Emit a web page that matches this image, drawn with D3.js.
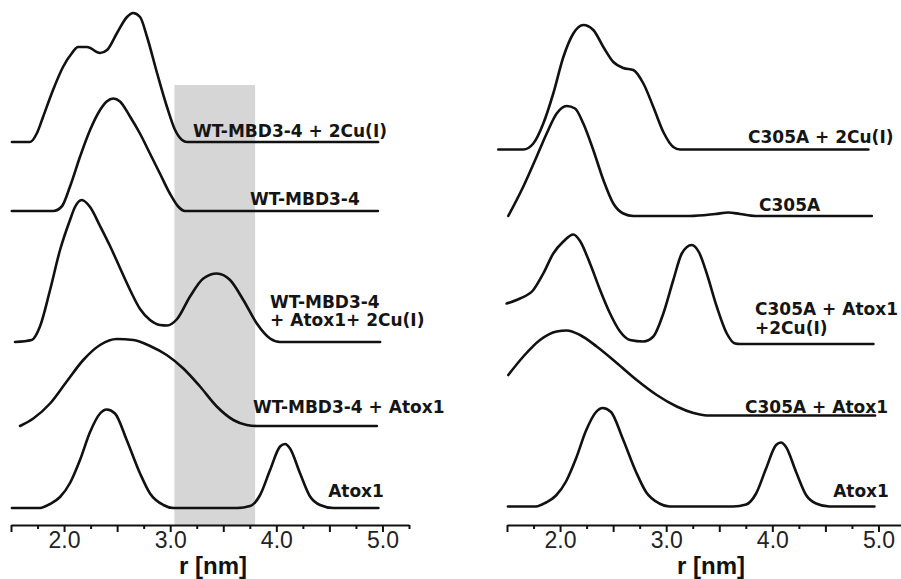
<!DOCTYPE html>
<html><head><meta charset="utf-8">
<script src="https://cdn.jsdelivr.net/npm/d3@7/dist/d3.min.js"></script>
<style>body{margin:0;background:#fff}svg{display:block}</style>
</head><body><svg id="c" width="901" height="579"></svg>
<script>
// ---------- data ----------
const rDomain = [1.5, 5.25];
const labelTicks = [2.0, 3.0, 4.0, 5.0];
const axisTitle = "r [nm]";
const bandRange = [3.04, 3.8];
const bandHeight = 88;

// Left panel (WT-MBD3-4), [r, intensity above baseline]
const wtCu = [[1.509,0],[1.679,0],[1.745,1.8],[1.802,5],[1.896,10.4],[1.990,15],[2.075,17.8],[2.131,19],[2.216,19],[2.339,17.8],[2.405,18.4],[2.499,21.8],[2.593,25],[2.650,25.8],[2.716,25],[2.782,21],[2.876,13.8],[2.970,7],[3.046,2.4],[3.112,0.4],[3.159,0],[4.959,0]];
const wt = [[1.508,0],[1.899,0],[1.978,0.9],[2.056,4.9],[2.151,10.9],[2.245,16.2],[2.339,20.2],[2.402,21.9],[2.464,22.5],[2.527,21.9],[2.621,18.9],[2.715,15.5],[2.809,11.5],[2.903,7.5],[2.997,3.5],[3.075,0.9],[3.138,0],[4.957,0]];
const wtAtoxCu = [[1.538,0],[1.695,0.4],[1.773,3.1],[1.868,10.4],[1.962,18.4],[2.056,24.4],[2.103,27],[2.166,28.4],[2.245,27],[2.339,23.2],[2.433,19.2],[2.527,14.8],[2.622,10.4],[2.716,6.6],[2.810,4.4],[2.904,3.4],[2.970,3.3],[3.065,4.6],[3.187,9.1],[3.312,12.7],[3.439,13.7],[3.564,12.4],[3.689,8.4],[3.816,3.7],[3.941,0.7],[4.035,0],[4.978,0]];
const wtAtox = [[1.585,0],[1.710,1.5],[1.868,4.5],[2.025,8.9],[2.181,13.2],[2.339,16.2],[2.496,17.4],[2.653,17.2],[2.810,16],[2.967,14.2],[3.124,11.5],[3.281,7.9],[3.439,3.9],[3.595,1.2],[3.721,0.2],[3.816,0],[4.947,0]];
const atox1 = [[1.509,0],[1.773,0],[1.868,0.8],[1.962,2.2],[2.056,5.0],[2.150,9.6],[2.245,15.2],[2.339,18.9],[2.402,19.7],[2.480,18.9],[2.590,13.6],[2.716,6.9],[2.810,2.9],[2.935,0.6],[3.030,0],[3.630,0],[3.753,0.4],[3.847,2.6],[3.941,7.6],[4.035,12.3],[4.082,12.8],[4.129,11.9],[4.224,6.9],[4.318,2.3],[4.412,0.6],[4.538,0],[4.962,0]];

// Right panel (C305A)
const cCu = [[1.418,0],[1.654,0],[1.748,1.2],[1.842,5.2],[1.936,11.2],[2.031,18.5],[2.125,23.2],[2.219,24.9],[2.313,23.9],[2.408,20.5],[2.502,17.5],[2.596,16.3],[2.690,15.9],[2.785,13.2],[2.879,8.5],[2.973,3.5],[3.067,0.5],[3.131,0],[4.905,0]];
const c305a = [[1.512,0],[1.654,5.9],[1.780,11.9],[1.874,16.5],[1.968,20.5],[2.063,22],[2.141,21.5],[2.219,18.5],[2.313,13.2],[2.408,7.2],[2.502,2.5],[2.596,0.5],[2.690,0],[3.225,0],[3.461,0.4],[3.584,0.7],[3.696,0.4],[3.837,0],[4.937,0]];
const cAtoxCu = [[1.497,8.1],[1.623,9.1],[1.748,10.8],[1.842,14.1],[1.936,18.1],[2.031,20.5],[2.125,21.9],[2.188,20.6],[2.282,16.1],[2.377,10.8],[2.471,6.1],[2.565,2.5],[2.659,0.8],[2.785,0.5],[2.879,1.5],[2.973,6.1],[3.067,12.8],[3.147,18.1],[3.240,19.8],[3.310,18.3],[3.382,14.1],[3.476,7.5],[3.571,2.1],[3.649,0.1],[3.696,0],[4.953,0]];
const cAtox = [[1.512,8.1],[1.654,11.8],[1.811,15.1],[1.968,16.8],[2.063,17],[2.188,16.1],[2.345,13.8],[2.534,10.5],[2.722,7.1],[2.911,4.1],[3.099,1.8],[3.256,0.5],[3.382,0],[4.968,0]];

// vertical stacking offsets (intensity units)
const leftOffsets = [76.6, 62.8, 36.6, 19.8, 3.4];
const rightOffsets = [75.1, 61.8, 36.2, 21.9, 3.7];

const leftNames = [["WT-MBD3-4 + 2Cu(I)"],["WT-MBD3-4"],["WT-MBD3-4","+ Atox1+ 2Cu(I)"],["WT-MBD3-4 + Atox1"],["Atox1"]];
const rightNames = [["C305A + 2Cu(I)"],["C305A"],["C305A + Atox1","+2Cu(I)"],["C305A + Atox1"],["Atox1"]];

// ---------- layout ----------
const svg = d3.select("#c");
const y = d3.scaleLinear().domain([0, 100]).range([525, 25]);
const panels = [
  {x: d3.scaleLinear().domain(rDomain).range([11, 409]), series:[wtCu, wt, wtAtoxCu, wtAtox, atox1], offsets:leftOffsets, names:leftNames,
   labelPos:[[3.215,77.6],[3.753,64],[3.941,43.5],[3.781,22.4],[4.488,5.6]], lineGap:18.5, band:true, titleX:213},
  {x: d3.scaleLinear().domain(rDomain).range([507, 905]), series:[cCu, c305a, cAtoxCu, cAtox, atox1], offsets:rightOffsets, names:rightNames,
   labelPos:[[3.771,76.4],[3.875,62.8],[3.837,42],[3.743,22.4],[4.573,5.6]], lineGap:19, band:false, titleX:711}
];

panels.forEach(p => {
  const g = svg.append("g");
  if (p.band) {
    g.append("rect")
      .attr("x", p.x(bandRange[0])).attr("width", p.x(bandRange[1]) - p.x(bandRange[0]))
      .attr("y", y(bandHeight)).attr("height", y(0) - y(bandHeight))
      .attr("fill", "#d6d6d6");
  }
  p.series.forEach((s, i) => {
    const off = p.offsets[i];
    const line = d3.line().x(d => p.x(d[0])).y(d => y(d[1] + off)).curve(d3.curveMonotoneX);
    g.append("path").attr("d", line(s)).attr("fill", "none")
      .attr("stroke", "#111").attr("stroke-width", 2.6).attr("stroke-linejoin", "round").attr("stroke-linecap", "round");
  });
  p.names.forEach((lines, i) => {
    const t = g.append("text").attr("x", p.x(p.labelPos[i][0]))
      .attr("y", y(p.labelPos[i][1]))
      .attr("font-family", "DejaVu Sans, sans-serif").attr("font-weight", "bold")
      .attr("font-size", 17).attr("fill", "#151515");
    lines.forEach((s, j) => {
      t.append("tspan").attr("x", p.x(p.labelPos[i][0])).attr("dy", j === 0 ? 0 : p.lineGap).text(s);
    });
  });
  // axis
  const allTicks = d3.range(rDomain[0], rDomain[1] + 0.001, 0.25);
  const ax = d3.axisBottom(p.x).tickValues(allTicks).tickSizeInner(7).tickSizeOuter(0).tickPadding(0)
    .tickFormat(d => labelTicks.some(v => Math.abs(v - d) < 1e-6) ? d3.format(".1f")(d) : "");
  const axg = g.append("g").attr("transform", `translate(0,${y(0)})`).call(ax);
  axg.select(".domain").attr("stroke", "#111").attr("stroke-width", 2);
  axg.selectAll(".tick line").attr("stroke", "#111").attr("stroke-width", 2)
    .attr("y2", d => (Math.abs(d * 2 - Math.round(d * 2)) < 1e-6) ? 7 : 4);
  axg.selectAll(".tick text").attr("font-family", "Liberation Sans, Arial, sans-serif")
    .attr("font-size", 23).attr("fill", "#222");
  g.append("text").attr("x", p.titleX).attr("y", 574).attr("text-anchor", "middle")
    .attr("font-family", "Liberation Sans, Arial, sans-serif").attr("font-weight", "bold")
    .attr("font-size", 24).attr("fill", "#111").text(axisTitle);
});
</script></body></html>
